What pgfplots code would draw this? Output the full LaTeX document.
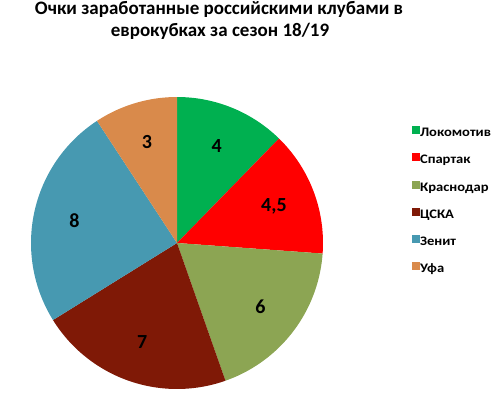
\documentclass[border=0pt]{standalone}
\usepackage{pgfplots}
\pgfplotsset{compat=1.18}
\usepackage{fontspec}
\setmainfont{Carlito}
\newfontfamily\legfont[FakeStretch=1.12]{Carlito}
\definecolor{cLok}{HTML}{00B050}
\definecolor{cSpa}{HTML}{FF0000}
\definecolor{cKra}{HTML}{8CA553}
\definecolor{cCSK}{HTML}{7F1906}
\definecolor{cZen}{HTML}{4799B1}
\definecolor{cUfa}{HTML}{D98A4B}
% values
\def\vA{4}\def\vB{4.5}\def\vC{6}\def\vD{7}\def\vE{8}\def\vF{3}
\pgfmathsetmacro\tot{\vA+\vB+\vC+\vD+\vE+\vF}
\pgfmathsetmacro\k{360/\tot}
\pgfmathsetmacro\aA{90}
\pgfmathsetmacro\aB{\aA-\vA*\k}
\pgfmathsetmacro\aC{\aB-\vB*\k}
\pgfmathsetmacro\aD{\aC-\vC*\k}
\pgfmathsetmacro\aE{\aD-\vD*\k}
\pgfmathsetmacro\aF{\aE-\vE*\k}
\pgfmathsetmacro\aG{\aF-\vF*\k}
\begin{document}
\begin{tikzpicture}
\path[use as bounding box] (0,0) rectangle (502bp,397bp);
\node[font=\bfseries\fontsize{19bp}{22bp}\selectfont, anchor=base, inner sep=0] at (219bp,382bp) {Очки заработанные российскими клубами в};
\node[font=\bfseries\fontsize{19bp}{22bp}\selectfont, anchor=base, inner sep=0] at (220bp,360.3bp) {еврокубках за сезон 18/19};
\begin{axis}[at={(31bp,8bp)}, anchor=south west, scale only axis,
  width=292bp, height=292bp, xmin=-1, xmax=1, ymin=-1, ymax=1,
  hide axis, clip=false,
  legend cell align=left,
  legend style={draw=none, fill=none, at={(1.305,0.9007)}, anchor=north west,
    inner sep=0pt, outer sep=0pt,
    nodes={inner sep=0pt, text height=9bp, text depth=3bp},
    font=\legfont\bfseries\fontsize{13bp}{14bp}\selectfont, row sep=13.8bp,
    /tikz/every even column/.append style={column sep=2bp}},
  legend image code/.code={\fill[#1] (0bp,-0.5bp) rectangle (8bp,7.5bp);}
]
\addplot[fill=cLok, draw=none, domain=\aB:\aA, samples=60] ({cos(x)},{sin(x)}) -- (axis cs:0,0) -- cycle;
\addplot[fill=cSpa, draw=none, domain=\aC:\aB, samples=60] ({cos(x)},{sin(x)}) -- (axis cs:0,0) -- cycle;
\addplot[fill=cKra, draw=none, domain=\aD:\aC, samples=60] ({cos(x)},{sin(x)}) -- (axis cs:0,0) -- cycle;
\addplot[fill=cCSK, draw=none, domain=\aE:\aD, samples=60] ({cos(x)},{sin(x)}) -- (axis cs:0,0) -- cycle;
\addplot[fill=cZen, draw=none, domain=\aF:\aE, samples=60] ({cos(x)},{sin(x)}) -- (axis cs:0,0) -- cycle;
\addplot[fill=cUfa, draw=none, domain=\aG:\aF, samples=60] ({cos(x)},{sin(x)}) -- (axis cs:0,0) -- cycle;
\legend{Локомотив,Спартак,Краснодар,ЦСКА,Зенит,Уфа}
\pgfmathsetmacro\mA{(\aA+\aB)/2}\pgfmathsetmacro\mB{(\aB+\aC)/2}
\pgfmathsetmacro\mC{(\aC+\aD)/2}\pgfmathsetmacro\mD{(\aD+\aE)/2}
\pgfmathsetmacro\mE{(\aE+\aF)/2}\pgfmathsetmacro\mF{(\aF+\aG)/2}
\tikzset{lab/.style={font=\bfseries\fontsize{20bp}{22bp}\selectfont}}
\node[lab] at (axis cs:{0.72*cos(\mA)},{0.72*sin(\mA)}) {4};
\node[lab] at (axis cs:{0.71*cos(\mB)},{0.71*sin(\mB)}) {4,5};
\node[lab] at (axis cs:{0.72*cos(\mC)},{0.72*sin(\mC)}) {6};
\node[lab] at (axis cs:{0.72*cos(\mD)},{0.72*sin(\mD)}) {7};
\node[lab] at (axis cs:{0.72*cos(\mE)},{0.72*sin(\mE)}) {8};
\node[lab] at (axis cs:{0.72*cos(\mF)},{0.72*sin(\mF)}) {3};
\end{axis}
\end{tikzpicture}
\end{document}
